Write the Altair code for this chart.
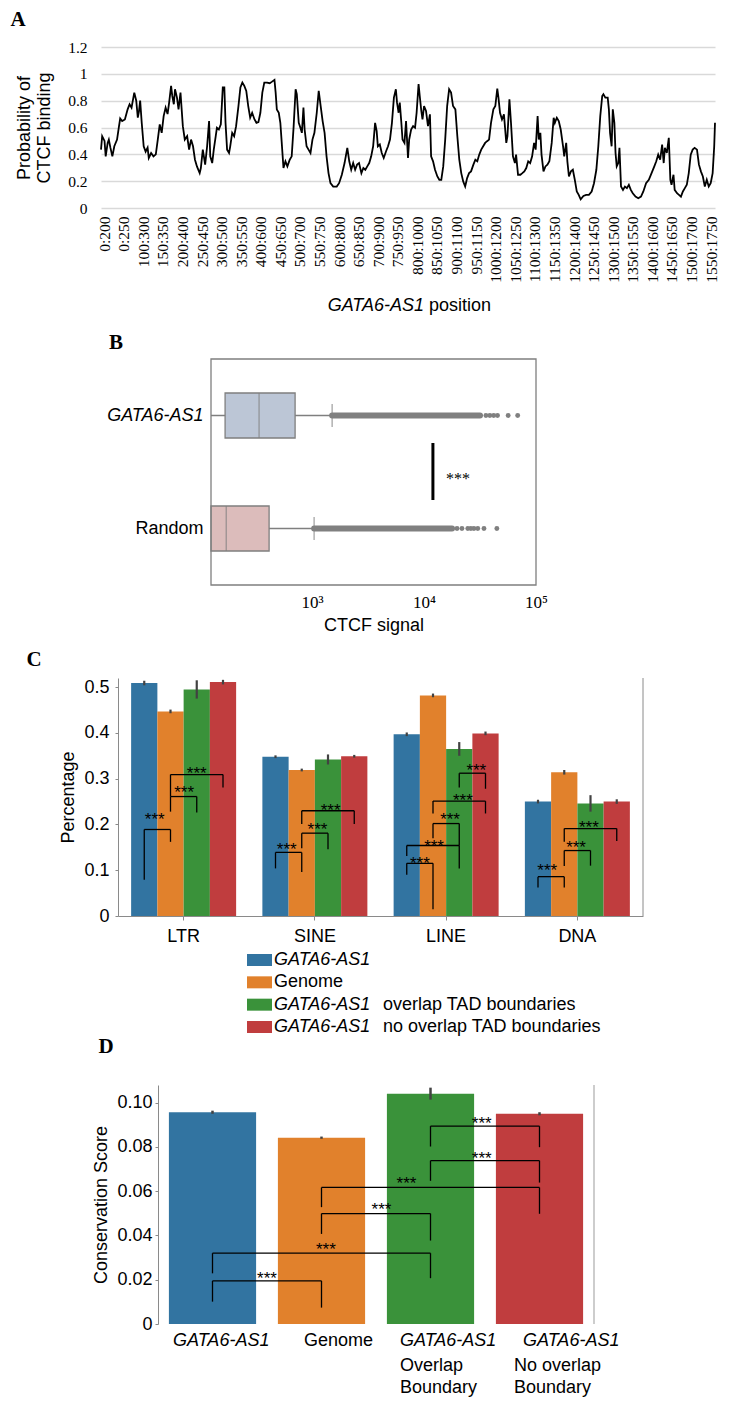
import json
import altair as alt
import pandas as pd

SANS = "Liberation Sans"
SERIF = "Liberation Serif"

# ---------------- Panel A data ----------------
pos_labels = ["0:200", "0:250", "100:300", "150:350", "200:400", "250:450", "300:500",
              "350:550", "400:600", "450:650", "500:700", "550:750", "600:800", "650:850",
              "700:900", "750:950", "800:1000", "850:1050", "900:1100", "950:1150",
              "1000:1200", "1050:1250", "1100:1300", "1150:1350", "1200:1400", "1250:1450",
              "1300:1500", "1350:1550", "1400:1600", "1450:1650", "1500:1700", "1550:1750"]

win_a = [0, 3, 9, 12, 17, 20, 24, 29, 34, 41, 46, 49, 54, 61, 68, 73, 78, 85, 90, 94, 97, 100,
         104, 109, 114, 119, 122, 128, 134, 140, 145, 150, 155, 160, 165, 170, 174, 179, 182,
         186, 189, 194, 198, 203, 206, 209, 214, 220, 225, 230, 235, 240, 245, 252, 255, 260,
         266, 271, 276, 279, 284, 288, 293, 296, 301, 306, 311, 315, 318, 322, 327, 330, 335,
         340, 345, 351, 356, 361, 366, 371, 376, 381, 386, 392, 397, 402, 407, 412, 417, 424,
         431, 436, 443, 446, 449, 454, 458, 461, 466, 471, 476, 482, 487, 492, 497, 500, 505,
         508, 513, 517, 520, 525, 530, 535, 540, 545, 551, 556, 561, 566, 571, 576, 581, 586,
         593, 602, 608, 615, 622, 629, 634, 639, 644, 649, 654, 659, 665, 670, 675, 680, 685,
         690, 695, 700, 704, 707, 712, 717, 722, 728, 733, 738, 743, 748, 753, 756, 760, 763,
         767, 770, 775, 779, 784, 787, 792, 797, 802, 806, 811, 814, 818, 821, 825, 830, 835,
         840, 843, 848, 853, 859, 864, 869, 874, 879, 884, 889, 894, 899, 905, 910, 915, 920,
         925, 930, 935, 940, 945, 951, 956, 961, 966, 971, 976, 981, 986, 991, 996, 1002, 1007,
         1012, 1015, 1019, 1024, 1029, 1035, 1038, 1043, 1047, 1052, 1057, 1060, 1065, 1071,
         1076, 1081, 1086, 1091, 1096, 1101, 1106, 1110, 1115, 1118, 1122, 1125, 1130, 1135,
         1140, 1145, 1151, 1156, 1159, 1164, 1169, 1174, 1180, 1183, 1188, 1191, 1195, 1200,
         1205, 1210, 1215, 1220, 1225, 1232, 1239, 1246, 1253, 1259, 1265, 1270, 1275, 1280,
         1283, 1288, 1294, 1297, 1300, 1304, 1307, 1311, 1314, 1317, 1321, 1324, 1328, 1333,
         1338, 1343, 1348, 1353, 1358, 1365, 1372, 1379, 1385, 1392, 1399, 1406, 1413, 1418,
         1423, 1428, 1433, 1437, 1440, 1445, 1450, 1454, 1457, 1462, 1465, 1471, 1476, 1481,
         1486, 1491, 1496, 1501, 1506, 1511, 1516, 1522, 1527, 1532, 1537, 1542, 1547, 1552,
         1557, 1562, 1566, 1568]

prob_a = [.435, .535, .50, .385, .485, .51, .45, .385, .46, .51, .61, .667, .648, .66, .735, .773,
          .748, .86, .80, .673, .72, .80, .635, .46, .42, .45, .373, .41, .385, .40, .51, .623,
          .56, .685, .748, .70, .785, .91, .835, .773, .885, .823, .735, .86, .735, .61, .51,
          .535, .435, .51, .46, .36, .31, .26, .298, .435, .323, .46, .648, .385, .335, .435,
          .535, .598, .585, .623, .898, .898, .635, .435, .41, .46, .56, .535, .61, .76, .898,
          .935, .91, .873, .76, .673, .71, .66, .635, .64, .71, .86, .935, .935, .93, .94, .955,
          .86, .735, .71, .635, .51, .298, .348, .31, .36, .385, .61, .885, .848, .635,
          .61, .56, .748, .585, .46, .435, .41, .51, .56, .71, .873, .76, .648, .56, .385, .26,
          .185, .16, .16, .185, .248, .335, .448, .348, .285, .335, .285, .323, .335, .26, .298,
          .285, .31, .335, .385, .46, .635, .573, .46, .473, .41, .373, .423, .46, .51, .635,
          .823, .885, .785, .71, .785, .635, .51, .485, .648, .373, .51, .585, .61, .598, .71,
          .923, .835, .723, .66, .76, .723, .61, .698, .385, .348, .285, .235, .21, .21, .31,
          .51, .76, .885, .86, .76, .735, .535, .36, .26, .198, .16, .223, .26, .273, .323, .36,
          .348, .398, .435, .46, .485, .498, .51, .635, .735, .76, .89, .823, .71, .66, .698,
          .485, .535, .81, .635, .385, .335, .398, .248, .248, .26, .273, .298, .348, .335, .385,
          .485, .435, .685, .51, .56, .398, .273, .31, .323, .348, .485, .673, .635, .673, .648,
          .585, .46, .385, .485, .348, .235, .273, .285, .21, .123, .098, .065, .09, .098, .098,
          .123, .185, .285, .46, .685, .835, .848, .823, .823, .735, .56, .46, .735, .635, .41,
          .31, .335, .448, .16, .135, .16, .148, .173, .135, .11, .085, .073, .085, .123, .185,
          .21, .26, .31, .348, .398, .36, .473, .335, .448, .41, .523, .21, .173, .248, .135,
          .11, .098, .085, .123, .148, .173, .26, .398, .435, .448, .435, .323, .273, .235, .16,
          .21, .16, .185, .26, .46, .635]

a_yticks = [0, 0.2, 0.4, 0.6, 0.8, 1.0, 1.2]

# ---------------- Panel B data ----------------
box_cats = ["GATA6-AS1", "Random"]
box_q1 = [167, 125]
box_med = [336, 171]
box_q3 = [705, 413]
box_wlo = [125, 125]
box_whi = [1510, 1042]
box_dense_end = [31600, 17800]
box_fill = ["#bcc6d6", "#dcbcbb"]
out_cat = ["GATA6-AS1"] * 7 + ["Random"] * 8
out_val = [31600, 35700, 38700, 41900, 45300, 56400, 68600,
           19700, 21800, 24600, 26200, 27900, 30200, 34300, 44700]
sig_x = [12000]
sig_star_x = [20100]

# ---------------- Panel C data ----------------
rep_classes = ["LTR", "SINE", "LINE", "DNA"]
series = ["GATA6-AS1", "Genome", "GATA6-AS1 overlap TAD boundaries",
          "GATA6-AS1 no overlap TAD boundaries"]
pal = ["#3274a1", "#e1812c", "#3a923a", "#c03d3e"]
c_vals = {
    "LTR": [0.509, 0.447, 0.495, 0.511],
    "SINE": [0.348, 0.319, 0.342, 0.349],
    "LINE": [0.397, 0.482, 0.365, 0.399],
    "DNA": [0.250, 0.314, 0.246, 0.250],
}
c_errs = {
    "LTR": [0.005, 0.004, 0.020, 0.005],
    "SINE": [0.003, 0.003, 0.011, 0.003],
    "LINE": [0.004, 0.004, 0.015, 0.004],
    "DNA": [0.004, 0.005, 0.018, 0.005],
}
c_br_grp = [0, 0, 0, 1, 1, 1, 2, 2, 2, 2, 2, 3, 3, 3]
c_br_a = [0, 1, 1, 0, 1, 1, 0, 0, 1, 1, 2, 0, 1, 1]
c_br_b = [1, 2, 3, 1, 2, 3, 1, 2, 2, 3, 3, 1, 2, 3]
c_br_h = [0.189, 0.261, 0.309, 0.139, 0.181, 0.230, 0.115, 0.154, 0.202, 0.251, 0.312,
          0.086, 0.143, 0.191]
c_br_la = [0.079, 0.228, 0.261, 0.104, 0.148, 0.201, 0.090, 0.131, 0.170, 0.224, 0.281,
           0.062, 0.109, 0.162]
c_br_lb = [0.162, 0.226, 0.281, 0.096, 0.146, 0.201, 0.015, 0.104, 0.154, 0.224, 0.278,
           0.062, 0.110, 0.164]
c_br_t = [0.4, 0.52, 0.5, 0.43, 0.6, 0.55, 0.5, 0.52, 0.65, 0.57, 0.65, 0.35, 0.45, 0.47]
c_br_sv = [0.219, 0.278, 0.319, 0.154, 0.197, 0.239, 0.122, 0.159, 0.219, 0.261, 0.325,
           0.108, 0.157, 0.200]
legend_ital = ["GATA6-AS1", "", "GATA6-AS1", "GATA6-AS1"]
legend_norm = ["", "Genome", "overlap TAD boundaries", "no overlap TAD boundaries"]

# ---------------- Panel D data ----------------
d_cats = ["GATA6-AS1", "Genome", "GATA6-AS1 Overlap Boundary", "GATA6-AS1 No overlap Boundary"]
d_vals = [0.0957, 0.0842, 0.1041, 0.0950]
d_errs = [0.0007, 0.0005, 0.0027, 0.0007]
d_br_a = [0, 0, 1, 1, 2, 2]
d_br_b = [1, 2, 2, 3, 3, 3]
d_br_h = [0.0195, 0.0320, 0.0499, 0.0617, 0.0738, 0.0894]
d_br_la = [0.0101, 0.0229, 0.0407, 0.0528, 0.0647, 0.0802]
d_br_lb = [0.0074, 0.0207, 0.0377, 0.0498, 0.0639, 0.0799]
d_br_t = [0.5, 0.52, 0.55, 0.39, 0.47, 0.47]
d_br_sv = [0.0222, 0.0353, 0.0531, 0.0652, 0.0765, 0.0923]
d_lab_u = [0.138, 1.339, 2.220, 2.220, 2.220, 3.349, 3.266, 3.266]
d_lab_line = [0, 0, 0, 1, 2, 0, 1, 2]
d_lab_text = ["GATA6-AS1", "Genome", "GATA6-AS1", "Overlap", "Boundary",
              "GATA6-AS1", "No overlap", "Boundary"]
d_lab_ital = [1, 0, 1, 0, 0, 1, 0, 0]

GRAY = "#8a8a8a"
ROW_W = 700


def one_row():
    return pd.DataFrame({"z": [0]})


def spacer(h, extra=None):
    base = alt.Chart(one_row()).mark_point(opacity=0, size=1).encode(
        x=alt.value(2), y=alt.value(2))
    layers = [base] + (extra or [])
    return alt.layer(*layers).properties(width=ROW_W, height=h)


def letter(ch, x, y):
    return alt.Chart(pd.DataFrame({"t": [ch]})).mark_text(
        font=SERIF, fontSize=21, fontWeight="bold", align="center", baseline="middle",
        color="black").encode(text="t:N", x=alt.value(x), y=alt.value(y))


# ---------------- Panel A (plot x range 93..707) ----------------
A_L, A_R, A_H = 93, 707, 161
tick_vals = [8 + 50 * i for i in range(len(pos_labels))]
a_df = pd.DataFrame({"pos": win_a, "prob": prob_a})
line_a = alt.Chart(a_df).mark_line(color="black", strokeWidth=1.8).encode(
    x=alt.X("pos:Q", scale=alt.Scale(domain=[0, 1568], range=[A_L, A_R], nice=False, zero=False),
            axis=alt.Axis(values=tick_vals,
                          labelExpr=json.dumps(pos_labels) + "[round((datum.value - 8) / 50)]",
                          labelAngle=270, labelAlign="right", labelBaseline="middle",
                          labelFont=SERIF, labelFontSize=15.5, labelPadding=8, ticks=False,
                          domain=False, grid=False, labelFlush=False, labelOverlap=False,
                          title=None)),
    y=alt.Y("prob:Q", scale=alt.Scale(domain=[0, 1.2], nice=False),
            axis=alt.Axis(values=a_yticks, offset=-A_L,
                          labelExpr="datum.value == 0 ? '0' : datum.value == 1 ? '1' : format(datum.value, '.1f')",
                          labelFont=SERIF, labelFontSize=15.5, labelPadding=14, ticks=False,
                          domain=False, grid=True, gridColor="#d9d9d9", gridWidth=1.3,
                          title=["Probability of", "CTCF binding"], titleFontSize=18,
                          titleFont=SANS, titleFontWeight="normal", titlePadding=14)),
)
a_title_df = pd.DataFrame({"a": ["GATA6-AS1"], "b": ["position"]})
a_t1 = alt.Chart(a_title_df).mark_text(font=SANS, fontSize=18, fontStyle="italic", align="right",
                                       baseline="middle", color="black").encode(
    text="a:N", x=alt.value(A_L + 323), y=alt.value(259))
a_t2 = alt.Chart(a_title_df).mark_text(font=SANS, fontSize=18, align="left",
                                       baseline="middle", color="black").encode(
    text="b:N", x=alt.value(A_L + 328), y=alt.value(259))
panel_a = alt.layer(line_a, a_t1, a_t2).properties(width=ROW_W, height=A_H)

# ---------------- Panel B (plot x range 203..528) ----------------
B_L, B_R, B_H = 203, 528, 226
b_df = pd.DataFrame({"bcat": box_cats, "q1": box_q1, "med": box_med, "q3": box_q3,
                     "wlo": box_wlo, "whi": box_whi, "dend": box_dense_end})
b_out = pd.DataFrame({"bcat": out_cat, "val": out_val})
b_y_scale = alt.Scale(domain=box_cats, paddingInner=0.2, paddingOuter=0.1)
b_x_scale = alt.Scale(type="log", domain=[125, 100000], range=[B_L, B_R], nice=False)
b_y_axis = alt.Axis(title=None, ticks=False, domain=False, labelFontSize=18, labelPadding=8,
                    labelFont=SANS, offset=-B_L,
                    labelFontStyle={"condition": {"test": "datum.value == 'GATA6-AS1'",
                                                  "value": "italic"}, "value": "normal"})
b_x_axis = alt.Axis(values=[1000, 10000, 100000],
                    labelExpr="datum.value == 1000 ? '10³' : datum.value == 10000 ? '10⁴' : '10⁵'",
                    labelFont=SERIF, labelFontSize=17, labelPadding=9, ticks=False, domain=False,
                    grid=False, title="CTCF signal", titleFont=SANS, titleFontSize=18,
                    titleFontWeight="normal", titlePadding=6, labelFlush=False)


def xb(field):
    return alt.X(field, scale=b_x_scale, axis=b_x_axis)


def yb():
    return alt.Y("bcat:N", sort=box_cats, scale=b_y_scale, axis=b_y_axis)


whisk = alt.Chart(b_df).mark_rule(color="#7f7f7f", strokeWidth=1.3).encode(
    x=xb("wlo:Q"), x2="whi:Q", y=yb())
boxes = alt.Chart(b_df).mark_bar(size=45, stroke="#7f7f7f", strokeWidth=1.3).encode(
    x=xb("q1:Q"), x2="q3:Q", y=yb(),
    color=alt.Color("bcat:N", scale=alt.Scale(domain=box_cats, range=box_fill), legend=None))
meds = alt.Chart(b_df).mark_tick(color="#7f7f7f", size=45, thickness=1.3).encode(
    x=xb("med:Q"), y=yb())
caps = alt.Chart(b_df).mark_tick(color="#7f7f7f", size=23, thickness=1.3).encode(
    x=xb("whi:Q"), y=yb())
dense = alt.Chart(b_df).mark_rule(color="#808080", strokeWidth=6, strokeCap="round").encode(
    x=xb("whi:Q"), x2="dend:Q", y=yb())
dots = alt.Chart(b_out).mark_circle(size=24, color="#808080", opacity=1).encode(
    x=xb("val:Q"), y=yb())
frame = alt.Chart(one_row()).mark_rect(fillOpacity=0, stroke="#7f7f7f", strokeWidth=1.3).encode(
    x=alt.value(B_L), x2=alt.value(B_R), y=alt.value(0), y2=alt.value(B_H))
sig_df = pd.DataFrame({"sx": sig_x, "tx": sig_star_x, "s": ["***"]})
sig_line = alt.Chart(sig_df).mark_rule(color="black", strokeWidth=3).encode(
    x=xb("sx:Q"), y=alt.value(84), y2=alt.value(141))
sig_txt = alt.Chart(sig_df).mark_text(font=SERIF, fontSize=16, color="black", align="center",
                                      baseline="middle", dy=3).encode(
    x=xb("tx:Q"), y=alt.value(117), text="s:N")
panel_b = alt.layer(whisk, boxes, meds, caps, dense, dots, frame, sig_line, sig_txt).properties(
    width=ROW_W, height=B_H)

# ---------------- Panel C (plot x range 110..635) ----------------
C_L, C_R, C_H = 110, 635, 238
c_rows = []
for r in rep_classes:
    for j, s in enumerate(series):
        c_rows.append({"rep": r, "ser": s, "v": c_vals[r][j], "e": c_errs[r][j]})
c_df = pd.DataFrame(c_rows)
c_x = alt.X("rep:N", sort=rep_classes,
            scale=alt.Scale(paddingInner=0.2, paddingOuter=0.1, range=[C_L, C_R]),
            axis=alt.Axis(title=None, labelAngle=0, labelFontSize=18, labelFont=SANS,
                          labelPadding=7, tickSize=4, tickColor=GRAY, domainColor=GRAY))
c_xo = alt.XOffset("ser:N", sort=series, scale=alt.Scale(paddingInner=0, paddingOuter=0))
c_y_scale = alt.Scale(domain=[0, 0.52], nice=False)
c_y_axis = alt.Axis(values=[0, 0.1, 0.2, 0.3, 0.4, 0.5], offset=-C_L,
                    labelExpr="datum.value == 0 ? '0' : format(datum.value, '.1f')",
                    labelFontSize=18, labelFont=SANS, labelPadding=6, tickSize=3,
                    tickColor=GRAY, domainColor=GRAY, grid=False, title="Percentage",
                    titleFontSize=18, titleFont=SANS, titleFontWeight="normal",
                    titlePadding=6)


def yc(field):
    return alt.Y(field, scale=c_y_scale, axis=c_y_axis)


c_bars = alt.Chart(c_df).mark_bar().encode(
    x=c_x, xOffset=c_xo, y=yc("v:Q"),
    color=alt.Color("ser:N", scale=alt.Scale(domain=series, range=pal), legend=None))
c_err = alt.Chart(c_df).transform_calculate(lo="datum.v - datum.e", hi="datum.v + datum.e").mark_rule(
    color="#424242", strokeWidth=2.2).encode(
    x=c_x, xOffset=c_xo, y=yc("lo:Q"), y2="hi:Q")
c_border = alt.Chart(one_row()).mark_rule(color=GRAY).encode(
    x=alt.value(C_R), y=alt.value(0), y2=alt.value(C_H))
c_main = alt.layer(c_bars, c_err, c_border)

c_br_df = pd.DataFrame({"grp": c_br_grp, "a": c_br_a, "b": c_br_b, "h": c_br_h, "la": c_br_la,
                        "lb": c_br_lb, "t": c_br_t, "sv": c_br_sv})
c_br_base = alt.Chart(c_br_df).transform_calculate(
    xl="datum.grp + 0.2 + 0.2 * datum.a", xr="datum.grp + 0.2 + 0.2 * datum.b",
    xs="datum.grp + 0.2 + 0.2 * datum.a + datum.t * 0.2 * (datum.b - datum.a)", s="'***'")
qx_c = alt.Scale(domain=[0, 4], range=[C_L, C_R], nice=False, zero=False)
c_leg_l = c_br_base.mark_rule(color="black", strokeWidth=1.3).encode(
    x=alt.X("xl:Q", scale=qx_c, axis=None), y=yc("la:Q"), y2="h:Q")
c_leg_r = c_br_base.mark_rule(color="black", strokeWidth=1.3).encode(
    x=alt.X("xr:Q", scale=qx_c, axis=None), y=yc("lb:Q"), y2="h:Q")
c_hor = c_br_base.mark_rule(color="black", strokeWidth=1.3).encode(
    x=alt.X("xl:Q", scale=qx_c, axis=None), x2="xr:Q", y=yc("h:Q"))
c_stars = c_br_base.mark_text(font=SANS, fontSize=17, color="black", align="center",
                              baseline="middle", dy=4).encode(
    x=alt.X("xs:Q", scale=qx_c, axis=None), y=yc("sv:Q"), text="s:N")
c_brk = alt.layer(c_leg_l, c_leg_r, c_hor, c_stars)
panel_c = alt.layer(c_main, c_brk).resolve_scale(x="independent").properties(
    width=ROW_W, height=C_H)

# legend (row under panel C)
leg_df = pd.DataFrame({"lser": series, "ital": legend_ital, "norm": legend_norm})
leg_y = alt.Y("lser:N", sort=series,
              scale=alt.Scale(type="point", domain=series, range=[44, 111], padding=0), axis=None)
leg_sw = alt.Chart(leg_df).mark_point(shape="M-1,-0.48H1V0.48H-1Z", size=625, filled=True,
                                      opacity=1).encode(
    x=alt.value(251.5), y=leg_y,
    color=alt.Color("lser:N", scale=alt.Scale(domain=series, range=pal), legend=None))
leg_it = alt.Chart(leg_df).transform_filter("datum.ital != ''").mark_text(
    font=SANS, fontSize=18, fontStyle="italic", align="left", baseline="middle",
    color="black").encode(x=alt.value(266), y=leg_y, text="ital:N")
leg_after = alt.Chart(leg_df).transform_filter("datum.ital != '' && datum.norm != ''").mark_text(
    font=SANS, fontSize=18, align="left", baseline="middle", color="black").encode(
    x=alt.value(375), y=leg_y, text="norm:N")
leg_alone = alt.Chart(leg_df).transform_filter("datum.ital == ''").mark_text(
    font=SANS, fontSize=18, align="left", baseline="middle", color="black").encode(
    x=alt.value(266), y=leg_y, text="norm:N")

# ---------------- Panel D (plot x range 150..586) ----------------
D_L, D_R, D_H = 150, 586, 239
d_df = pd.DataFrame({"dcat": d_cats, "v": d_vals, "e": d_errs})
d_x = alt.X("dcat:N", sort=d_cats,
            scale=alt.Scale(paddingInner=0.2, paddingOuter=0.1, range=[D_L, D_R]), axis=None)
d_y_scale = alt.Scale(domain=[0, 0.108], nice=False)
d_y_axis = alt.Axis(values=[0, 0.02, 0.04, 0.06, 0.08, 0.1], offset=-D_L,
                    labelExpr="datum.value == 0 ? '0' : format(datum.value, '.2f')",
                    labelFontSize=18, labelFont=SANS, labelPadding=3, tickSize=3,
                    tickColor=GRAY, domainColor=GRAY, grid=False,
                    title="Conservation Score", titleFontSize=18, titleFont=SANS,
                    titleFontWeight="normal", titlePadding=6)


def yd(field):
    return alt.Y(field, scale=d_y_scale, axis=d_y_axis)


d_bars = alt.Chart(d_df).mark_bar().encode(
    x=d_x, y=yd("v:Q"),
    color=alt.Color("dcat:N", scale=alt.Scale(domain=d_cats, range=pal), legend=None))
d_err = alt.Chart(d_df).transform_calculate(lo="datum.v - datum.e", hi="datum.v + datum.e").mark_rule(
    color="#424242", strokeWidth=2.5).encode(x=d_x, y=yd("lo:Q"), y2="hi:Q")
d_border = alt.Chart(one_row()).mark_rule(color="#bdbdbd", strokeWidth=1.5).encode(
    x=alt.value(D_R), y=alt.value(0), y2=alt.value(D_H))
d_main = alt.layer(d_bars, d_err, d_border)

d_br_df = pd.DataFrame({"a": d_br_a, "b": d_br_b, "h": d_br_h, "la": d_br_la, "lb": d_br_lb,
                        "t": d_br_t, "sv": d_br_sv})
d_br_base = alt.Chart(d_br_df).transform_calculate(
    xl="datum.a + 0.5", xr="datum.b + 0.5",
    xs="datum.a + 0.5 + datum.t * (datum.b - datum.a)", s="'***'")
qx_d = alt.Scale(domain=[0, 4], range=[D_L, D_R], nice=False, zero=False)
d_leg_l = d_br_base.mark_rule(color="black", strokeWidth=1.3).encode(
    x=alt.X("xl:Q", scale=qx_d, axis=None), y=yd("la:Q"), y2="h:Q")
d_leg_r = d_br_base.mark_rule(color="black", strokeWidth=1.3).encode(
    x=alt.X("xr:Q", scale=qx_d, axis=None), y=yd("lb:Q"), y2="h:Q")
d_hor = d_br_base.mark_rule(color="black", strokeWidth=1.3).encode(
    x=alt.X("xl:Q", scale=qx_d, axis=None), x2="xr:Q", y=yd("h:Q"))
d_stars = d_br_base.mark_text(font=SANS, fontSize=17, color="black", align="center",
                              baseline="middle", dy=4).encode(
    x=alt.X("xs:Q", scale=qx_d, axis=None), y=yd("sv:Q"), text="s:N")
d_lab_df = pd.DataFrame({"u": d_lab_u, "line": d_lab_line, "txt": d_lab_text, "it": d_lab_ital})
line_y = [256, 281, 303]
d_labs = []
for ln in range(3):
    for it in (1, 0):
        d_labs.append(
            alt.Chart(d_lab_df).transform_filter(
                f"datum.line == {ln} && datum.it == {it}").mark_text(
                font=SANS, fontSize=18, fontStyle="italic" if it else "normal", align="left",
                baseline="middle", color="black").encode(
                x=alt.X("u:Q", scale=qx_d, axis=None), y=alt.value(line_y[ln]), text="txt:N"))
d_brk = alt.layer(d_leg_l, d_leg_r, d_hor, d_stars, *d_labs)
panel_d = alt.layer(d_main, d_brk).resolve_scale(x="independent").properties(
    width=ROW_W, height=D_H)

# ---------------- Layout ----------------
anchor = alt.Chart(one_row()).mark_rect(color="white").encode(
    x=alt.value(0), x2=alt.value(1), y=alt.value(0), y2=alt.value(1))

rows = [
    spacer(39, [anchor, letter("A", 10, 12)]),
    panel_a,
    spacer(151, [letter("B", 108, 135)]),
    panel_b,
    spacer(93, [letter("C", 26, 75)]),
    panel_c,
    spacer(169, [leg_sw, leg_it, leg_after, leg_alone, letter("D", 98, 131)]),
    panel_d,
]

chart = alt.vconcat(*rows, spacing=0, bounds="flush").resolve_scale(
    color="independent"
).properties(
    padding={"left": 0, "top": 0, "right": 0, "bottom": 0}
).configure_view(stroke=None).configure_axis(
    labelColor="black", titleColor="black", labelFont=SANS, titleFont=SANS
)

chart.save("out.html", embed_options={"renderer": "svg", "actions": False})
